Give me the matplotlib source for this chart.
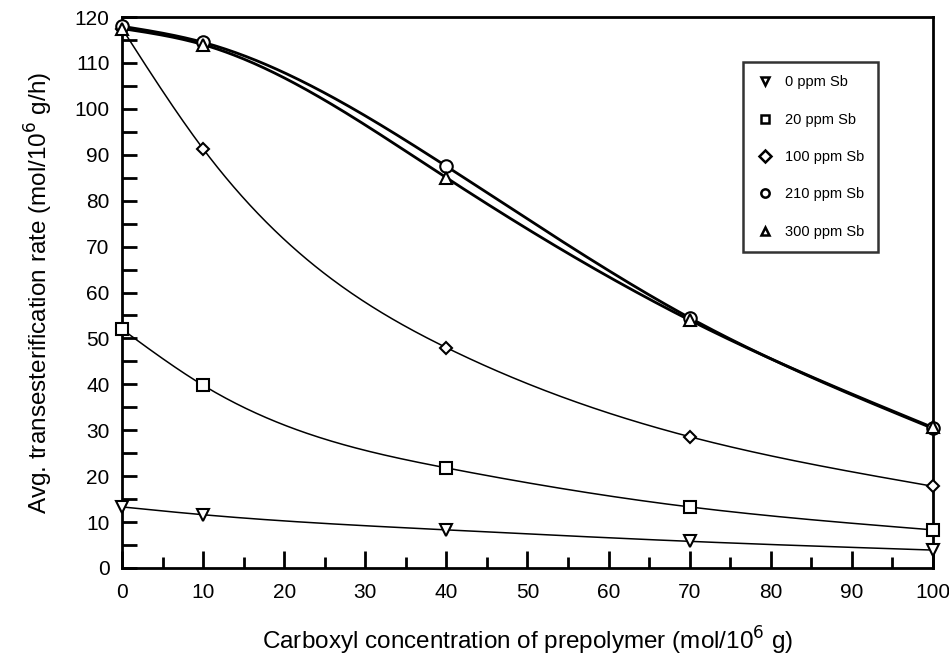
import numpy as np
import matplotlib
matplotlib.use("Agg")
import matplotlib.pyplot as plt
from matplotlib.lines import Line2D

plt.rcParams['font.family'] = ['Liberation Sans', 'DejaVu Sans']

x = [0, 10, 40, 70, 100]
sb0 = [13.3, 11.6, 8.3, 5.8, 3.9]
sb20 = [52.0, 39.8, 21.8, 13.3, 8.3]
sb100 = [117.5, 91.3, 48.0, 28.6, 17.8]
sb210 = [118.0, 114.5, 87.5, 54.5, 30.4]
sb300 = [117.5, 114.0, 85.0, 54.0, 30.6]
labels = ['0 ppm Sb', '20 ppm Sb', '100 ppm Sb', '210 ppm Sb', '300 ppm Sb']
markers = ['v', 's', 'D', 'o', '^']
msizes = [9, 8, 6.5, 9, 9]
lws = [1.1, 1.1, 1.1, 2.0, 2.0]


def natural_spline(xs, ys, n=400):
    xs = np.asarray(xs, float)
    ys = np.asarray(ys, float)
    m = len(xs)
    h = np.diff(xs)
    A = np.zeros((m, m))
    b = np.zeros(m)
    A[0, 0] = 1
    A[-1, -1] = 1
    for i in range(1, m - 1):
        A[i, i - 1] = h[i - 1]
        A[i, i] = 2 * (h[i - 1] + h[i])
        A[i, i + 1] = h[i]
        b[i] = 6 * ((ys[i + 1] - ys[i]) / h[i] - (ys[i] - ys[i - 1]) / h[i - 1])
    M = np.linalg.solve(A, b)
    xx = np.linspace(xs[0], xs[-1], n)
    idx = np.clip(np.searchsorted(xs, xx) - 1, 0, m - 2)
    x0, x1 = xs[idx], xs[idx + 1]
    hh = x1 - x0
    t0 = x1 - xx
    t1 = xx - x0
    yy = (M[idx] * t0 ** 3 / (6 * hh) + M[idx + 1] * t1 ** 3 / (6 * hh)
          + (ys[idx] / hh - M[idx] * hh / 6) * t0
          + (ys[idx + 1] / hh - M[idx + 1] * hh / 6) * t1)
    return xx, yy


fig = plt.figure(figsize=(9.49, 6.57), dpi=100)
ax = fig.add_axes([0.1286, 0.1355, 0.983 - 0.1286, 0.974 - 0.1355])

series = [sb0, sb20, sb100, sb210, sb300]
for ys, m, ms, lw in zip(series, markers, msizes, lws):
    sx, sy = natural_spline(x, ys)
    ax.plot(sx, sy, color='black', lw=lw, zorder=2)
    ax.plot(x, ys, linestyle='none', marker=m, ms=ms, mfc='white', mec='black',
            mew=1.5, zorder=3, clip_on=False)

ax.set_xlim(0, 100)
ax.set_ylim(0, 120)
ax.set_xticks(np.arange(0, 101, 10))
ax.set_xticks(np.arange(0, 101, 5), minor=True)
ax.set_yticks(np.arange(0, 121, 10))
ax.set_yticks(np.arange(0, 121, 5), minor=True)
ax.tick_params(axis='x', which='major', direction='in', length=12, width=2, labelsize=15, pad=11)
ax.tick_params(axis='x', which='minor', direction='in', length=8, width=2)
ax.tick_params(axis='y', which='both', direction='in', length=11, width=2, labelsize=15, pad=9)
for s in ax.spines.values():
    s.set_linewidth(2)

ax.set_xlabel('Carboxyl concentration of prepolymer (mol/10$^6$ g)', fontsize=17.5, labelpad=16)
ax.set_ylabel('Avg. transesterification rate (mol/10$^6$ g/h)', fontsize=17.5, labelpad=14)

handles = [Line2D([], [], linestyle='none', marker=m, ms=6, mfc='white', mec='black', mew=1.8)
           for m in markers]
leg = ax.legend(handles, labels, loc='upper left', bbox_to_anchor=(0.766, 0.918),
                frameon=True, fancybox=False, edgecolor='black', fontsize=10.5,
                labelspacing=1.6, handletextpad=0.8, borderpad=0.9, handlelength=1.2,
                borderaxespad=0)
leg.get_frame().set_linewidth(1.8)

fig.savefig('out.png', dpi=100)
